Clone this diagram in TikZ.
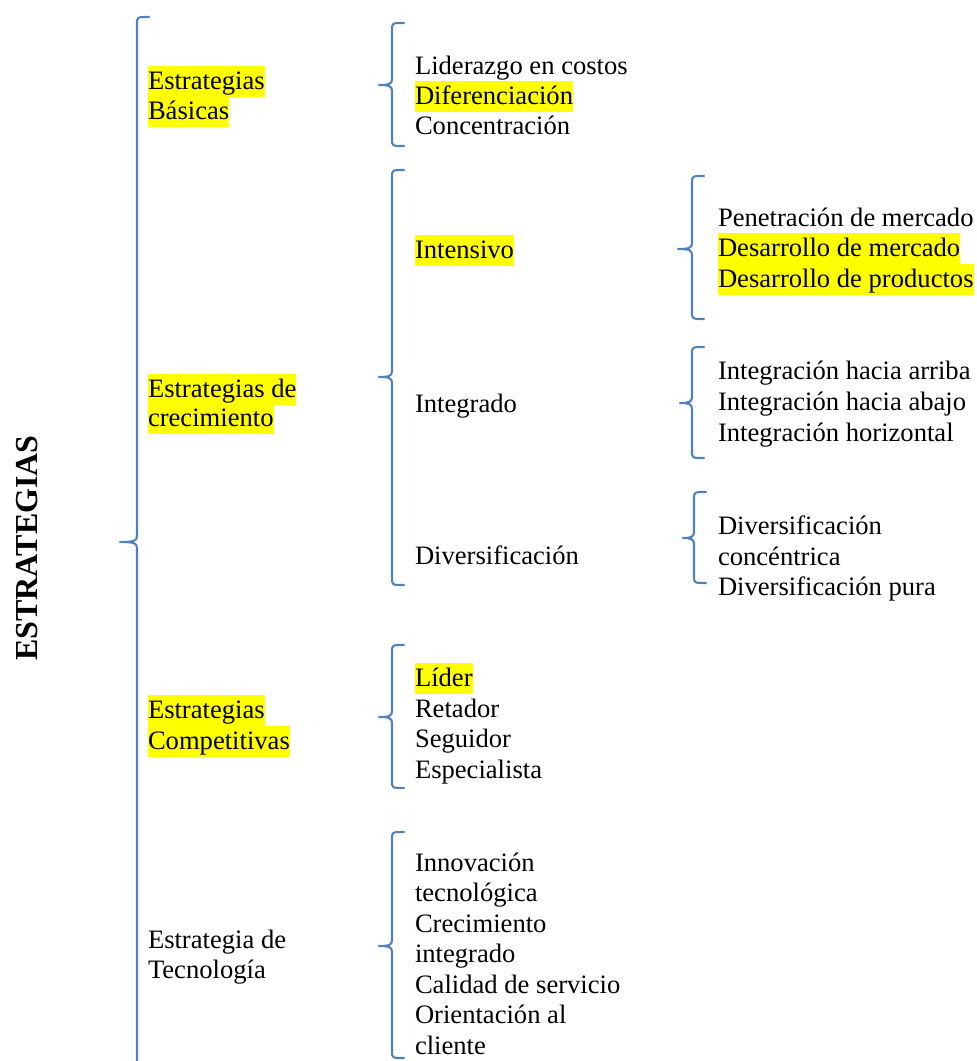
\documentclass[tikz,border=0pt]{standalone}
\usepackage{fontspec}
\setmainfont{Liberation Serif}
\definecolor{braceblue}{HTML}{4F81BD}
\definecolor{hl}{HTML}{FFFF00}
% left curly brace: #1 x of the stem, #2 top, #3 tip height, #4 bottom, #5 x of the tip
\newcommand{\drawbrace}[5]{%
  \draw[bracestyle] ({#1+12},{-#2}) .. controls ({#1},{-#2}) .. ({#1},{-#2-7})
    -- ({#1},{-#3+6}) .. controls ({#1},{-#3+1}) and ({#1-3},{-#3}) .. ({#5},{-#3})
    .. controls ({#1-3},{-#3}) and ({#1},{-#3-1}) .. ({#1},{-#3-6})
    -- ({#1},{-#4+7}) .. controls ({#1},{-#4}) .. ({#1+12},{-#4});}
\begin{document}
\begin{tikzpicture}[x=1pt,y=1pt,
  bracestyle/.style={draw=braceblue,line width=2.1pt,line cap=round,line join=round},
  txt/.style={anchor=base west,inner sep=0pt,outer sep=0pt,
    font=\fontsize{26.6}{30}\selectfont,text height=23pt,text depth=8pt},
  hltxt/.style={txt,fill=hl}]
\useasboundingbox (0,0) rectangle (977,-1061);

% title
\node[rotate=90,inner sep=0pt,font=\fontsize{32}{36}\selectfont\bfseries] (title) at (27,-548) {ESTRATEGIAS};

% braces
\drawbrace{137}{17}{542}{1080}{120}
\drawbrace{392}{23}{85}{146}{379}
\drawbrace{392}{170}{377}{585}{379}
\drawbrace{392}{645}{717}{788}{379}
\drawbrace{392}{832}{946}{1058}{379}
\drawbrace{692}{176}{249}{319}{678}
\drawbrace{692}{347}{403}{458}{680}
\drawbrace{694}{492}{538}{583}{683}

% first level
\node[hltxt] (b1) at (148,-89) {Estrategias};
\node[hltxt] (b2) at (148,-119) {Básicas};
\node[hltxt] (c1) at (148,-397) {Estrategias de};
\node[hltxt] (c2) at (148,-426) {crecimiento};
\node[hltxt] (k1) at (148,-718) {Estrategias};
\node[hltxt] (k2) at (148,-749) {Competitivas};
\node[txt] (t1) at (148,-948) {Estrategia de};
\node[txt] (t2) at (148,-978) {Tecnología};

% second level
\node[txt]   (lc) at (415,-74) {Liderazgo en costos};
\node[hltxt] (df) at (415,-104) {Diferenciación};
\node[txt]   (cc) at (415,-134) {Concentración};
\node[hltxt] (in) at (415,-258) {Intensivo};
\node[txt]   (ig) at (415,-412) {Integrado};
\node[txt]   (dv) at (415,-564) {Diversificación};
\node[hltxt] (li) at (415,-686) {Líder};
\node[txt]   (re) at (415,-717) {Retador};
\node[txt]   (se) at (415,-747) {Seguidor};
\node[txt]   (es) at (415,-778) {Especialista};
\node[txt]   (n1) at (415,-871) {Innovación};
\node[txt]   (n2) at (415,-901) {tecnológica};
\node[txt]   (n3) at (415,-932) {Crecimiento};
\node[txt]   (n4) at (415,-962) {integrado};
\node[txt]   (n5) at (415,-993) {Calidad de servicio};
\node[txt]   (n6) at (415,-1023) {Orientación al};
\node[txt]   (n7) at (415,-1054) {cliente};

% third level
\node[txt]   (pm) at (718,-226) {Penetración de mercado};
\node[hltxt] (dm) at (718,-256) {Desarrollo de mercado};
\node[hltxt] (dp) at (718,-287) {Desarrollo de productos};
\node[txt]   (ia) at (718,-379) {Integración hacia arriba};
\node[txt]   (ib) at (718,-410) {Integración hacia abajo};
\node[txt]   (ih) at (718,-441) {Integración horizontal};
\node[txt]   (d1) at (718,-534) {Diversificación};
\node[txt]   (d2) at (718,-565) {concéntrica};
\node[txt]   (d3) at (718,-595) {Diversificación pura};
\end{tikzpicture}
\end{document}
